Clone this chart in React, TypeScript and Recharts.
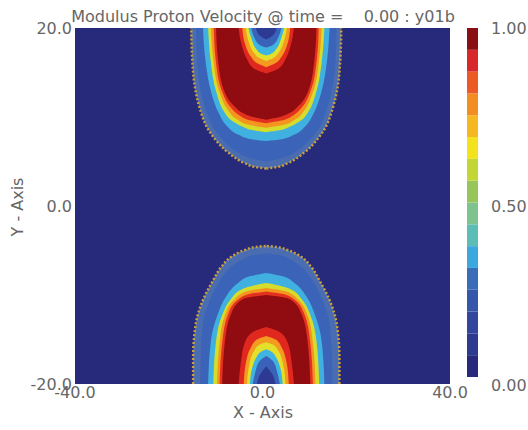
import { ComposedChart, Area, XAxis, YAxis, CartesianGrid, BarChart, Bar } from "recharts";

const TITLE = "Modulus Proton Velocity @ time =    0.00 : y01b";
const X_TICKS = [-40, 0, 40];
const Y_TICKS = [-20, 0, 20];
const CB_TICKS = [0, 0.5, 1];
const CENTER_X = 0.8;

// contour boundaries as [y, half-width]
// upper blob (hangs from y = 20), outermost first
const U_EDGE = [[4.2, 0], [4.4, 2.5], [4.8, 4.5], [6.0, 8.1], [7.5, 10.9], [9.0, 12.8], [10.5, 13.9], [12.7, 15.0], [16.5, 15.8], [20, 16.0]];
const U_BLUE = [[5.0, 0], [5.4, 3.5], [6.2, 6.6], [7.5, 9.4], [9.0, 11.5], [10.5, 12.7], [12.7, 13.9], [16.5, 14.8], [20, 15.0]];
const U_CYAN = [[7.3, 0], [7.5, 3.2], [8.0, 5.9], [9.0, 8.4], [10.5, 10.2], [12.7, 11.7], [16.5, 13.0], [20, 13.5]];
const U_YELLOW = [[8.3, 0], [8.5, 2.8], [8.9, 5.0], [9.6, 7.4], [10.6, 9.0], [12.7, 10.6], [16.5, 11.9], [20, 12.4]];
const U_ORANGE = [[8.8, 0], [9.1, 3.6], [9.8, 6.4], [10.8, 8.2], [12.7, 9.9], [16.5, 11.3], [20, 11.8]];
const U_RED = [[9.3, 0], [9.6, 3.2], [10.2, 5.8], [11.0, 7.5], [12.7, 9.3], [16.5, 10.8], [20, 11.2]];
const U_DARKRED = [[9.7, 0], [10.0, 2.8], [10.5, 5.2], [11.2, 6.8], [12.7, 8.8], [16.5, 10.3], [20, 10.7]];
const U_IN_RED = [[14.9, 0], [15.4, 2.5], [16.5, 4.1], [18.0, 5.2], [20, 5.9]];
const U_IN_ORANGE = [[15.6, 0], [16.0, 1.8], [16.8, 3.3], [18.0, 4.4], [20, 5.1]];
const U_IN_YELLOW = [[16.3, 0], [16.6, 1.4], [17.2, 2.6], [18.4, 3.7], [20, 4.4]];
const U_IN_CYAN = [[16.9, 0], [17.1, 1.1], [17.6, 2.1], [18.7, 3.1], [20, 3.8]];
const U_IN_BLUE = [[17.8, 0], [18.1, 1.4], [19.0, 2.6], [20, 3.2]];
const U_CORE = [[18.7, 0], [19.2, 1.5], [20, 2.2]];

// lower blob (rises from y = -20)
const L_EDGE = [[-20, 15.6], [-17, 15.6], [-13.15, 15.0], [-10.56, 13.5], [-8.31, 11.3], [-6.85, 9.6], [-5.73, 7.5], [-4.94, 4.5], [-4.6, 2.2], [-4.49, 0]];
const L_BLUE = [[-20, 14.1], [-17, 14.0], [-13.15, 13.5], [-10.56, 12.0], [-8.31, 9.8], [-6.85, 7.5], [-6.06, 5.3], [-5.5, 2.6], [-5.3, 0]];
const L_CYAN = [[-20, 12.4], [-15.1, 11.8], [-12.1, 10.3], [-10.2, 8.6], [-8.65, 6.0], [-7.9, 3.5], [-7.53, 0]];
const L_YELLOW = [[-20, 11.3], [-15.1, 10.7], [-12.1, 9.3], [-10.56, 7.7], [-9.3, 5.0], [-8.9, 2.5], [-8.65, 0]];
const L_ORANGE = [[-20, 10.5], [-15.1, 9.9], [-12.1, 8.7], [-10.56, 6.9], [-9.6, 4.3], [-9.2, 0]];
const L_RED = [[-20, 9.95], [-15.1, 9.35], [-12.1, 8.1], [-10.56, 6.1], [-9.9, 3.6], [-9.6, 0]];
const L_DARKRED = [[-20, 9.4], [-15.1, 8.8], [-12.1, 7.5], [-10.56, 5.3], [-10.2, 3.0], [-10.0, 0]];
const L_IN_RED = [[-20, 5.9], [-17.5, 5.4], [-15.4, 4.6], [-14.2, 3.0], [-13.6, 0]];
const L_IN_ORANGE = [[-20, 4.8], [-17.5, 4.3], [-16.0, 3.4], [-15.0, 2.0], [-14.6, 0]];
const L_IN_YELLOW = [[-20, 4.1], [-17.8, 3.6], [-16.3, 2.6], [-15.6, 1.5], [-15.3, 0]];
const L_IN_CYAN = [[-20, 3.5], [-18.2, 3.0], [-17.0, 2.1], [-16.4, 1.2], [-16.1, 0]];
const L_IN_BLUE = [[-20, 2.9], [-18.6, 2.3], [-17.4, 1.4], [-16.85, 0]];
const L_CORE = [[-20, 2.0], [-19.0, 1.4], [-18.0, 0]];

const BG = "#27297b";
const SPECKLE = "#4a6db2";
const BANDS = [
  { pts: U_EDGE, color: SPECKLE, edge: true },
  { pts: U_BLUE, color: "#3b64b8" },
  { pts: U_CYAN, color: "#3fb0e0" },
  { pts: U_YELLOW, color: "#d6dc2c" },
  { pts: U_ORANGE, color: "#f5941f" },
  { pts: U_RED, color: "#e2321f" },
  { pts: U_DARKRED, color: "#900c10" },
  { pts: U_IN_RED, color: "#e0281f" },
  { pts: U_IN_ORANGE, color: "#f59a20" },
  { pts: U_IN_YELLOW, color: "#e2e02a" },
  { pts: U_IN_CYAN, color: "#40b4e0" },
  { pts: U_IN_BLUE, color: "#3a62b8" },
  { pts: U_CORE, color: "#2d3a94" },
  { pts: L_EDGE, color: SPECKLE, edge: true },
  { pts: L_BLUE, color: "#3b64b8" },
  { pts: L_CYAN, color: "#3fb0e0" },
  { pts: L_YELLOW, color: "#d6dc2c" },
  { pts: L_ORANGE, color: "#f5941f" },
  { pts: L_RED, color: "#e2321f" },
  { pts: L_DARKRED, color: "#900c10" },
  { pts: L_IN_RED, color: "#e0281f" },
  { pts: L_IN_ORANGE, color: "#f59a20" },
  { pts: L_IN_YELLOW, color: "#e2e02a" },
  { pts: L_IN_CYAN, color: "#40b4e0" },
  { pts: L_IN_BLUE, color: "#3a62b8" },
  { pts: L_CORE, color: "#2d3a94" },
];

// colour bar, bottom to top
const CB_COLORS = [
  "#28297c", "#2e3a90", "#32469e", "#3556aa", "#3a6cb8", "#3ca8de", "#5cbdb6", "#7ec28e",
  "#96c65a", "#c2d636", "#f2e31c", "#f5b820", "#f28d22", "#ec5a25", "#d8282a", "#8a0f14",
];
const cbRow: Record<string, number | string> = { name: "cb" };
CB_COLORS.forEach((_, i) => (cbRow["s" + i] = 1));

const TEXT = "#666";
const FONT = 16;
const fmt1 = (v: number) => v.toFixed(1);
const fmt2 = (v: number) => v.toFixed(2);

export default function App() {
  return (
    <div
      style={{
        position: "absolute",
        left: 0,
        top: 0,
        width: 528,
        height: 430,
        background: "#fff",
        fontFamily: "'DejaVu Sans', sans-serif",
        color: TEXT,
      }}
    >
      <ComposedChart
        layout="vertical"
        width={528}
        height={430}
        margin={{ top: 28, right: 78, bottom: 45, left: 74 }}
      >
        <CartesianGrid fill={BG} stroke="none" horizontal={false} vertical={false} />
        <XAxis
          type="number"
          domain={[-40, 40]}
          ticks={X_TICKS}
          interval={0}
          allowDataOverflow
          tickFormatter={fmt1}
          height={1}
          tickSize={0}
          tickMargin={3}
          axisLine={false}
          tick={{ fill: TEXT, fontSize: FONT }}
        />
        <YAxis
          type="number"
          dataKey="y"
          reversed
          domain={[-20, 20]}
          ticks={Y_TICKS}
          interval={0}
          allowDataOverflow
          tickFormatter={fmt1}
          width={1}
          tickSize={0}
          tickMargin={3}
          axisLine={false}
          tick={{ fill: TEXT, fontSize: FONT }}
        />
        {BANDS.map((b, i) => (
          <Area
            key={i}
            data={b.pts.map(([y, hw]) => ({ y, r: [CENTER_X - hw, CENTER_X + hw] }))}
            dataKey="r"
            type="monotone"
            fill={b.color}
            fillOpacity={1}
            stroke={b.edge ? "#c9a03a" : "none"}
            strokeWidth={b.edge ? 2.5 : 0}
            strokeDasharray={b.edge ? "2 2" : undefined}
            dot={false}
            activeDot={false}
            isAnimationActive={false}
          />
        ))}
      </ComposedChart>

      {/* colour bar */}
      <div style={{ position: "absolute", left: 467, top: 28 }}>
        <BarChart
          width={11}
          height={349}
          data={[cbRow]}
          margin={{ top: 0, right: 0, bottom: 0, left: 0 }}
          barCategoryGap={0}
        >
          <XAxis dataKey="name" hide />
          <YAxis hide domain={[0, CB_COLORS.length]} />
          {CB_COLORS.map((c, i) => (
            <Bar key={i} dataKey={"s" + i} stackId="cb" fill={c} isAnimationActive={false} />
          ))}
        </BarChart>
      </div>

      {/* colour bar tick labels, on the plot's height */}
      <div style={{ position: "absolute", left: 449, top: 18 }}>
        <BarChart
          width={90}
          height={377}
          data={[{ name: "cb" }]}
          margin={{ top: 10, right: 0, bottom: 10, left: 0 }}
        >
          <XAxis dataKey="name" hide />
          <YAxis
            orientation="right"
            type="number"
            domain={[0, 1]}
            ticks={CB_TICKS}
            interval={0}
            allowDataOverflow
            tickFormatter={fmt2}
            width={89}
            tickSize={0}
            tickMargin={41}
            axisLine={false}
            tick={{ fill: TEXT, fontSize: FONT }}
          />
        </BarChart>
      </div>

      <div
        style={{
          position: "absolute",
          left: 263,
          top: 8,
          transform: "translateX(-50%)",
          whiteSpace: "pre",
          fontSize: FONT,
          lineHeight: "18px",
        }}
      >
        {TITLE}
      </div>
      <div
        style={{
          position: "absolute",
          left: 263,
          top: 404,
          transform: "translateX(-50%)",
          whiteSpace: "pre",
          fontSize: FONT,
          lineHeight: "18px",
        }}
      >
        X - Axis
      </div>
      <div
        style={{
          position: "absolute",
          left: 18,
          top: 207,
          transform: "translate(-50%, -50%) rotate(-90deg)",
          whiteSpace: "pre",
          fontSize: FONT,
          lineHeight: "18px",
        }}
      >
        Y - Axis
      </div>
    </div>
  );
}
